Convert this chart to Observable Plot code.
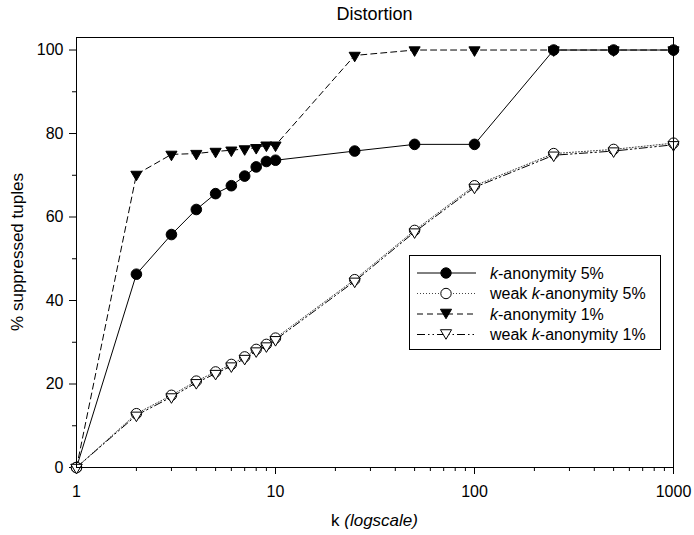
<!DOCTYPE html>
<html><head><meta charset="utf-8">
<script src="https://cdn.jsdelivr.net/npm/d3@7"></script>
<script src="https://cdn.jsdelivr.net/npm/@observablehq/plot@0.6"></script>
<style>body{margin:0;background:#fff} svg{font-family:"Liberation Sans",Arial,Helvetica,sans-serif}</style>
</head><body><div id="chart"></div>
<script>
// ---- data ----
const k = [1, 2, 3, 4, 5, 6, 7, 8, 9, 10, 25, 50, 100, 250, 500, 1000];
const kAnon5 = [0, 46.3, 55.8, 61.8, 65.6, 67.5, 69.8, 72.0, 73.3, 73.6, 75.8, 77.4, 77.4, 100, 100, 100];
const weakKAnon5 = [0, 12.9, 17.3, 20.7, 22.9, 24.7, 26.5, 28.3, 29.5, 31.0, 45.0, 56.8, 67.5, 75.2, 76.2, 77.7];
const kAnon1 = [0, 70.2, 75.0, 75.2, 75.7, 76.0, 76.3, 76.6, 77.2, 77.2, 98.7, 100, 100, 100, 100, 100];
const weakKAnon1 = [0, 12.5, 16.9, 20.3, 22.5, 24.3, 26.1, 27.9, 29.1, 30.6, 44.6, 56.4, 67.1, 74.8, 75.8, 77.3];
const seriesNames = ["k-anonymity 5%", "weak k-anonymity 5%", "k-anonymity 1%", "weak k-anonymity 1%"];
const yTicks = [0, 20, 40, 60, 80, 100];
const yMinorTicks = [10, 30, 50, 70, 90];
const xTicks = [1, 10, 100, 1000];
const xMinorTicks = [2, 3, 4, 5, 6, 7, 8, 9, 20, 30, 40, 50, 60, 70, 80, 90, 200, 300, 400, 500, 600, 700, 800, 900];
const titleText = "Distortion";
const yLabel = "% suppressed tuples";

const data = k.map((kk, i) => ({k: kk, a: kAnon5[i], b: weakKAnon5[i], c: kAnon1[i], d: weakKAnon1[i]}));

// downward triangle centred on its centroid
const triDown = {
  draw(ctx, size) {
    const r = Math.sqrt(size / Math.PI);
    const w = r * 1.05, H = r * 1.8;
    ctx.moveTo(-w, -H / 3); ctx.lineTo(w, -H / 3); ctx.lineTo(0, 2 * H / 3); ctx.closePath();
  }
};

const dashes = {
  a: null,
  b: "1,2",
  c: "6,4",
  d: "8,3,1.5,3,1.5,3"
};

const plot = Plot.plot({
  width: 694,
  height: 535,
  marginLeft: 76,
  marginRight: 21,
  marginTop: 37,
  marginBottom: 68,
  style: {fontSize: "16px", fontFamily: '"Liberation Sans", Arial, Helvetica, sans-serif', background: "#fff", color: "#000"},
  x: {type: "log", domain: [1, 1000]},
  y: {domain: [0, 103]},
  marks: [
    Plot.axisY({ticks: yTicks, tickSize: 7, tickPadding: 6, label: null, tickFormat: d => String(d)}),
    Plot.axisY({ticks: yMinorTicks, tickSize: 4, text: null, label: null}),
    Plot.axisX({ticks: xTicks, tickSize: 7, tickPadding: 11, label: null, tickFormat: d => String(d)}),
    Plot.axisX({ticks: xMinorTicks, tickSize: 4, text: null, label: null}),
    // k-anonymity 1%
    Plot.line(data, {x: "k", y: "c", stroke: "#000", strokeWidth: 1, strokeDasharray: dashes.c}),
    Plot.dot(data, {x: "k", y: "c", symbol: triDown, r: 5.3, fill: "#000", stroke: "#000", strokeWidth: 1}),
    // k-anonymity 5%
    Plot.line(data, {x: "k", y: "a", stroke: "#000", strokeWidth: 1}),
    Plot.dot(data, {x: "k", y: "a", r: 5.3, fill: "#000", stroke: "#000", strokeWidth: 1}),
    // weak k-anonymity 5%
    Plot.line(data, {x: "k", y: "b", stroke: "#444", strokeWidth: 1, strokeDasharray: dashes.b}),
    Plot.dot(data, {x: "k", y: "b", r: 5.2, fill: "#fff", stroke: "#000", strokeWidth: 1}),
    // weak k-anonymity 1%
    Plot.line(data, {x: "k", y: "d", stroke: "#000", strokeWidth: 1, strokeDasharray: dashes.d}),
    Plot.dot(data, {x: "k", y: "d", symbol: triDown, r: 5.3, fill: "#fff", stroke: "#000", strokeWidth: 1}),
    Plot.frame({stroke: "#000", strokeWidth: 1})
  ]
});

document.getElementById("chart").appendChild(plot);

// ---- titles and legend ----
const svg = d3.select(plot);
const ff = '"Liberation Sans", Arial, Helvetica, sans-serif';
const cx = (76 + 673) / 2;
svg.append("text").attr("x", cx).attr("y", 20).attr("text-anchor", "middle")
  .attr("font-size", 18).attr("font-family", ff).attr("fill", "#000").text(titleText);

const xl = svg.append("text").attr("x", cx).attr("y", 526).attr("text-anchor", "middle")
  .attr("font-size", 17).attr("font-family", ff).attr("fill", "#000");
xl.append("tspan").text("k ");
xl.append("tspan").attr("font-style", "italic").text("(logscale)");

svg.append("text").attr("transform", `translate(17,252) rotate(-90)`).attr("dy", "0.35em")
  .attr("text-anchor", "middle").attr("font-size", 17).attr("font-family", ff).attr("fill", "#000").text(yLabel);

const lg = svg.append("g").attr("text-anchor", "start");
lg.append("rect").attr("x", 409.5).attr("y", 255.5).attr("width", 251).attr("height", 94)
  .attr("fill", "#fff").attr("stroke", "#000").attr("stroke-width", 1);
const keys = ["a", "b", "c", "d"];
keys.forEach((key, i) => {
  const yy = 273 + i * 20.5;
  lg.append("line").attr("x1", 417).attr("x2", 476).attr("y1", yy).attr("y2", yy)
    .attr("stroke", key === "b" ? "#444" : "#000").attr("stroke-width", 1)
    .attr("stroke-dasharray", dashes[key]);
  if (key === "a" || key === "b") {
    lg.append("circle").attr("cx", 446).attr("cy", yy).attr("r", 5.2)
      .attr("fill", key === "a" ? "#000" : "#fff").attr("stroke", "#000");
  } else {
    lg.append("path").attr("d", d3.symbol(triDown, Math.PI * 5.3 * 5.3)()).attr("transform", `translate(446,${yy - 1.6})`)
      .attr("fill", key === "c" ? "#000" : "#fff").attr("stroke", "#000");
  }
  const t = lg.append("text").attr("x", 490).attr("y", yy).attr("dy", "0.35em")
    .attr("text-anchor", "start")
    .attr("font-size", 16).attr("font-family", ff).attr("fill", "#000");
  const name = seriesNames[i];
  const idx = name.indexOf("k-");
  if (idx > 0) t.append("tspan").text(name.slice(0, idx));
  t.append("tspan").attr("font-style", "italic").text("k");
  t.append("tspan").text(name.slice(idx + 1));
});
</script>
</body></html>
